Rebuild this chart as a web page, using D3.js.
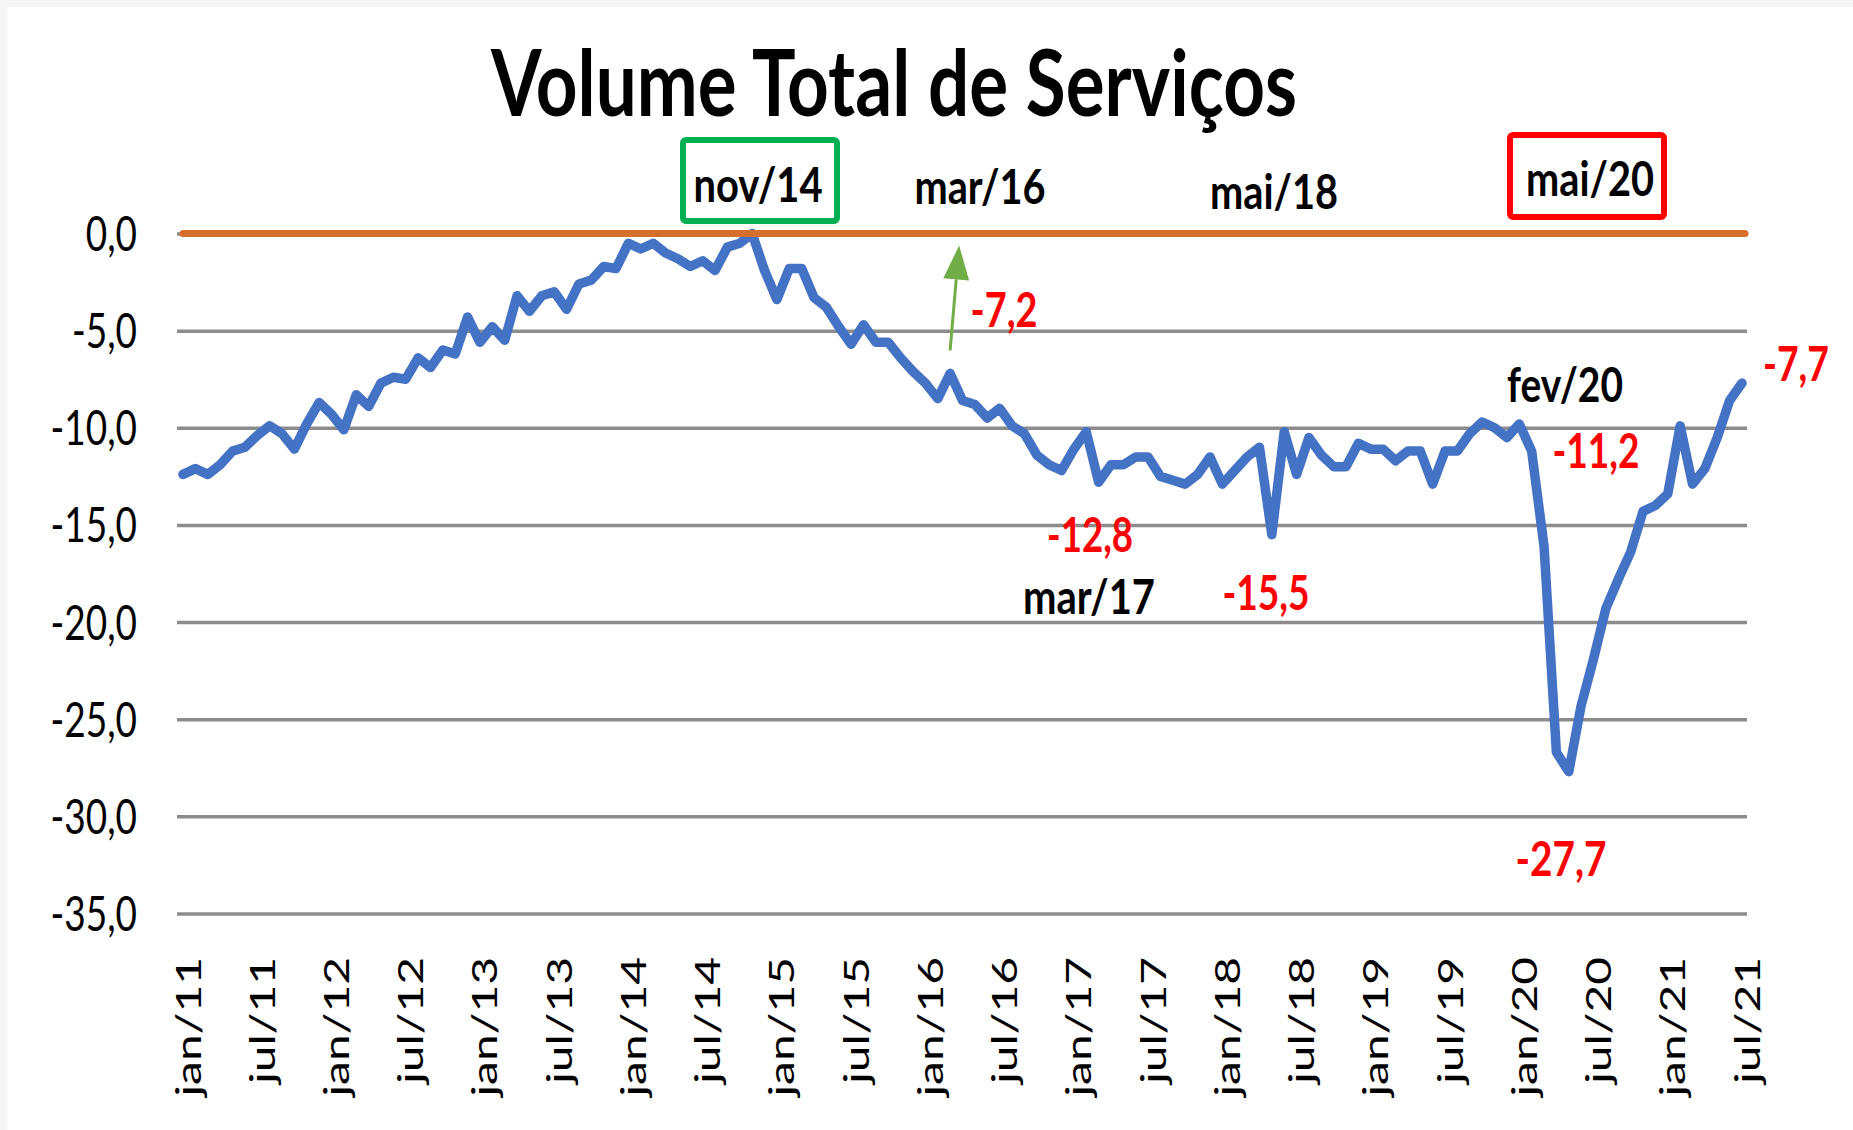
<!DOCTYPE html>
<html>
<head>
<meta charset="utf-8">
<script src="https://cdn.jsdelivr.net/npm/d3@7"></script>
<style>
	body{margin:0;background:#fff;}
	svg{display:block;}
</style>
</head>
<body>
<svg id="chart"></svg>
<script>
// meses jan/11 .. jul/21
const meses = ['jan','fev','mar','abr','mai','jun','jul','ago','set','out','nov','dez']
const anos = ['11','12','13','14','15','16','17','18','19','20','21']
const categorias = []
for(const a of anos){
	for(const m of meses){
		categorias.push(`${m}/${a}`)
	}
}
categorias.splice(127) // ate jul/21

// volume total de servicos, distancia (%) do pico de nov/14
const volume = [
	-12.4,-12.1,-12.4,-11.9,-11.2,-11.0,-10.4,-9.9,-10.3,-11.1,-9.8,-8.7,
	-9.3,-10.1,-8.3,-8.9,-7.7,-7.4,-7.5,-6.4,-6.9,-6.0,-6.2,-4.3,
	-5.6,-4.8,-5.5,-3.2,-4.0,-3.2,-3.0,-3.9,-2.6,-2.4,-1.7,-1.8,
	-0.5,-0.8,-0.5,-1.0,-1.3,-1.7,-1.4,-1.9,-0.7,-0.5,0.0,-1.9,
	-3.4,-1.8,-1.8,-3.3,-3.8,-4.8,-5.7,-4.7,-5.6,-5.6,-6.4,-7.1,
	-7.7,-8.5,-7.2,-8.6,-8.8,-9.5,-9.0,-9.9,-10.3,-11.4,-11.9,-12.2,
	-11.1,-10.2,-12.8,-11.9,-11.9,-11.5,-11.5,-12.5,-12.7,-12.9,-12.4,-11.5,
	-12.9,-12.2,-11.5,-11.0,-15.5,-10.2,-12.4,-10.5,-11.4,-12.0,-12.0,-10.8,
	-11.1,-11.1,-11.7,-11.2,-11.2,-12.9,-11.2,-11.2,-10.3,-9.7,-10.0,-10.5,
	-9.8,-11.2,-16.1,-26.7,-27.7,-24.3,-21.9,-19.3,-17.8,-16.4,-14.3,-14.0,
	-13.4,-9.9,-12.9,-12.1,-10.5,-8.6,-7.7
]
const nivelPico = 0

const yTicks = [0,-5,-10,-15,-20,-25,-30,-35]
const xTicks = ['jan/11','jul/11','jan/12','jul/12','jan/13','jul/13','jan/14','jul/14','jan/15','jul/15',
	'jan/16','jul/16','jan/17','jul/17','jan/18','jul/18','jan/19','jul/19','jan/20','jul/20','jan/21','jul/21']

const titulo = 'Volume Total de Serviços'
const datasDestaque = ['nov/14','mar/16','mai/18','mai/20','fev/20','mar/17']
const valoresDestaque = ['-7,2','-12,8','-15,5','-27,7','-11,2','-7,7']

const W = 1853, H = 1130
const fonte = 'Lato, "Open Sans", sans-serif'

const svg = d3.select('#chart')
	.attr('width', W)
	.attr('height', H)
	.attr('font-family', fonte)

// moldura cinza clara (topo e esquerda)
svg.append('rect').attr('x',0).attr('y',0).attr('width',W).attr('height',7).attr('fill','#f6f6f6')
svg.append('rect').attr('x',0).attr('y',0).attr('width',7).attr('height',H).attr('fill','#f6f6f6')

const x = d3.scalePoint().domain(categorias).range([183, 1742])
const y = d3.scaleLinear().domain([-35, 0]).range([913.5, 233.5])

const ajusta = (sel, k) => {
	sel.each(function(){
		const w = this.getComputedTextLength()
		d3.select(this).attr('textLength', w * k).attr('lengthAdjust','spacingAndGlyphs')
	})
}

// grade + eixo y
const gridL = 177, gridR = 1747
const eixoY = svg.append('g')
	.attr('transform', `translate(${gridL},0)`)
	.call(d3.axisLeft(y)
		.tickValues(yTicks)
		.tickSize(-(gridR - gridL))
		.tickPadding(40)
		.tickFormat(d => d3.format('.1f')(d).replace('.', ',').replace('−','-'))
	)
eixoY.select('.domain').remove()
eixoY.selectAll('line').attr('stroke','#8c8c8c').attr('stroke-width',3.5)
eixoY.selectAll('text')
	.attr('fill','#000')
	.attr('font-family', fonte)
	.attr('font-size', 48)
	.attr('dy', 17)
	.call(ajusta, 0.77)

// eixo x
const eixoX = svg.append('g')
	.attr('transform', `translate(0,${y(-35)})`)
	.call(d3.axisBottom(x).tickValues(xTicks).tickSize(0))
eixoX.select('.domain').remove()
eixoX.selectAll('text')
	.attr('fill','#000')
	.attr('font-family', fonte)
	.attr('font-size', 35)
	.attr('text-anchor','end')
	.attr('transform','rotate(-90)')
	.attr('x', -43.5)
	.attr('y', 17)
	.attr('dy', 0)
	.call(ajusta, 1.37)

// serie principal
const linha = d3.line()
	.x((d,i) => x(categorias[i]))
	.y(d => y(d))

svg.append('path')
	.datum(volume)
	.attr('d', linha)
	.attr('fill','none')
	.attr('stroke','#4472C4')
	.attr('stroke-width',9.5)
	.attr('stroke-linejoin','round')
	.attr('stroke-linecap','round')

// linha do pico (nov/14)
svg.append('line')
	.attr('x1', x(categorias[0]))
	.attr('x2', x(categorias[categorias.length-1]) + 3)
	.attr('y1', y(nivelPico))
	.attr('y2', y(nivelPico))
	.attr('stroke','#D5702C')
	.attr('stroke-width',7)
	.attr('stroke-linecap','round')

// seta verde mar/16
const xs = x('mar/16'), ys = y(-7.2) - 23
const xe = xs + 9, ye = y(nivelPico) + 12
const ang = Math.atan2(ye - ys, xe - xs)
const cab = 34, meia = 13
const bx = xe - cab * Math.cos(ang), by = ye - cab * Math.sin(ang)
svg.append('line')
	.attr('x1', xs).attr('y1', ys)
	.attr('x2', bx).attr('y2', by)
	.attr('stroke','#70AD47')
	.attr('stroke-width',3)
svg.append('path')
	.attr('d', `M${xe},${ye} L${bx + meia*Math.sin(ang)},${by - meia*Math.cos(ang)} L${bx - meia*Math.sin(ang)},${by + meia*Math.cos(ang)} Z`)
	.attr('fill','#70AD47')

// titulo
svg.append('text')
	.attr('x', 894)
	.attr('y', 116)
	.attr('text-anchor','middle')
	.attr('font-weight','bold')
	.attr('font-size', 91)
	.attr('textLength', 806)
	.attr('lengthAdjust','spacingAndGlyphs')
	.text(titulo)

// caixas
svg.append('rect')
	.attr('x',683).attr('y',140).attr('width',154).attr('height',81).attr('rx',3)
	.attr('fill','none').attr('stroke','#00B050').attr('stroke-width',6)
svg.append('rect')
	.attr('x',1510).attr('y',135).attr('width',154).attr('height',82).attr('rx',3)
	.attr('fill','none').attr('stroke','#FF0000').attr('stroke-width',6)

// rotulos (centro x, linha de base, largura)
const posDatas = [[758,202,129],[980,204,131],[1274,209,128],[1590,196,128],[1565,402,116],[1089,614,132]]
const posValores = [[1004,327,67],[1090,552,86],[1266,610,87],[1561,876,91],[1596,468,87],[1796,381,66]]

svg.selectAll('.data')
	.data(datasDestaque)
	.enter()
	.append('text')
	.classed('data',true)
	.attr('x',(d,i) => posDatas[i][0])
	.attr('y',(d,i) => posDatas[i][1])
	.attr('textLength',(d,i) => posDatas[i][2])
	.attr('lengthAdjust','spacingAndGlyphs')
	.attr('text-anchor','middle')
	.attr('font-weight','bold')
	.attr('font-size',47)
	.attr('fill','#000')
	.text(d => d)

svg.selectAll('.valor')
	.data(valoresDestaque)
	.enter()
	.append('text')
	.classed('valor',true)
	.attr('x',(d,i) => posValores[i][0])
	.attr('y',(d,i) => posValores[i][1])
	.attr('textLength',(d,i) => posValores[i][2])
	.attr('lengthAdjust','spacingAndGlyphs')
	.attr('text-anchor','middle')
	.attr('font-weight','bold')
	.attr('font-size',47)
	.attr('fill','#FF0000')
	.text(d => d)
</script>
</body>
</html>
